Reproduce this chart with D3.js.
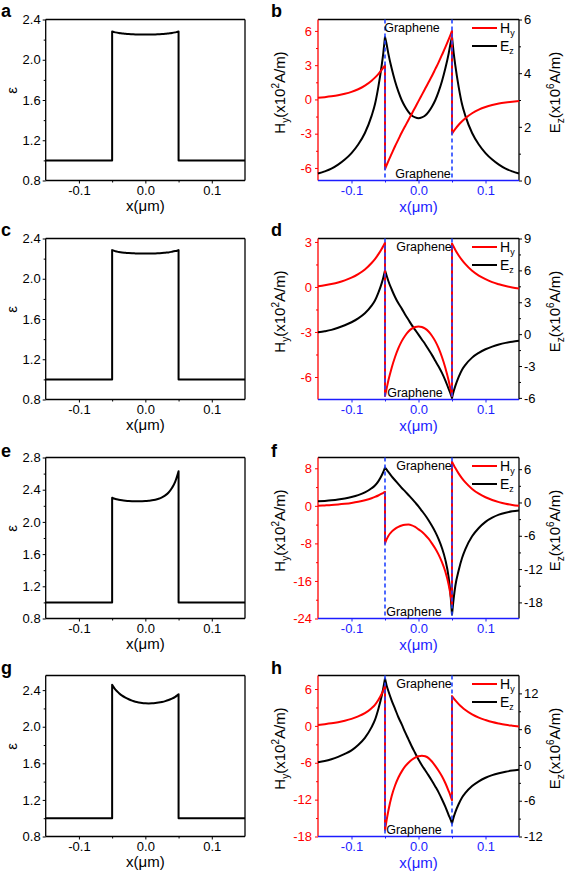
<!DOCTYPE html>
<html><head><meta charset="utf-8">
<script src="https://cdn.jsdelivr.net/npm/d3@7/dist/d3.min.js"></script>
<style>
body{margin:0;background:#fff;}
svg{display:block;font-family:"Liberation Sans",Arial,Helvetica,sans-serif;}
</style>
</head><body>
<svg id="c" width="567" height="873"></svg>
<script>
// ---------------- DATA ----------------
const X_L  = [-0.15,-0.14,-0.13,-0.12,-0.11,-0.10,-0.09,-0.08,-0.07,-0.065,-0.06,-0.055,-0.0525,-0.05];
const X_IN = [-0.05,-0.0475,-0.045,-0.04,-0.035,-0.03,-0.025,-0.02,-0.015,-0.01,-0.005,0,0.005,0.01,0.015,0.02,0.025,0.03,0.035,0.04,0.045,0.0475,0.05];
const X_R  = [0.05,0.0525,0.055,0.06,0.065,0.07,0.08,0.09,0.10,0.11,0.12,0.13,0.14,0.15];
const xField = X_L.concat(X_IN, X_R);
const xEps = [-0.15,-0.05].concat(X_IN, [0.05,0.15]);

// permittivity profiles (panels a, c, e, g)
const epsA = [1.0,1.0, 2.28,2.276,2.272,2.266,2.262,2.258,2.255,2.253,2.251,2.25,2.25,2.25,2.25,2.25,2.251,2.253,2.255,2.258,2.262,2.266,2.272,2.276,2.28, 1.0,1.0];
const epsC = [1.0,1.0, 2.285,2.279,2.273,2.266,2.261,2.258,2.255,2.253,2.252,2.251,2.25,2.25,2.25,2.251,2.252,2.254,2.256,2.259,2.262,2.268,2.275,2.279,2.285, 1.0,1.0];
const epsE = [1.0,1.0, 2.30,2.29,2.285,2.275,2.268,2.263,2.259,2.257,2.256,2.256,2.257,2.259,2.263,2.268,2.276,2.288,2.305,2.33,2.365,2.42,2.50,2.56,2.63, 1.0,1.0];
const epsG = [1.0,1.0, 2.46,2.43,2.405,2.37,2.34,2.318,2.30,2.285,2.273,2.265,2.259,2.256,2.255,2.256,2.259,2.264,2.271,2.28,2.292,2.307,2.327,2.34,2.355, 1.0,1.0];

// H_y (x10^2 A/m) and E_z (x10^6 A/m), panels b, d, f, h
const hyB = [0.14,0.2,0.27,0.36,0.49,0.66,0.89,1.21,1.64,1.91,2.22,2.58,2.78,3.0,
  -6.1,-5.75,-5.4,-4.75,-4.1,-3.5,-2.9,-2.35,-1.8,-1.25,-0.7,-0.15,0.4,0.95,1.5,2.05,2.65,3.25,3.9,4.55,5.25,5.62,6.0,
  -3.0,-2.78,-2.58,-2.22,-1.91,-1.64,-1.21,-0.89,-0.66,-0.49,-0.36,-0.27,-0.2,-0.14];
const ezB = [0.26,0.34,0.44,0.59,0.78,1.02,1.34,1.77,2.41,2.84,3.48,4.28,4.76,5.35,
  5.35,5.07,4.73,4.17,3.70,3.31,2.99,2.75,2.56,2.42,2.35,2.32,2.35,2.42,2.56,2.75,2.99,3.31,3.70,4.17,4.73,5.07,5.35,
  5.35,4.76,4.28,3.48,2.84,2.41,1.77,1.34,1.02,0.78,0.59,0.44,0.34,0.26];
const hyD = [0.05,0.12,0.2,0.3,0.44,0.62,0.86,1.17,1.6,1.86,2.17,2.53,2.73,2.95,
  -7.27,-6.76,-6.24,-5.38,-4.67,-4.08,-3.61,-3.25,-2.97,-2.78,-2.67,-2.63,-2.67,-2.78,-2.97,-3.25,-3.61,-4.08,-4.67,-5.38,-6.24,-6.76,-7.27,
  2.9,2.68,2.47,2.10,1.79,1.52,1.08,0.76,0.52,0.32,0.18,0.06,-0.03,-0.1];
const ezD = [0.17,0.27,0.4,0.6,0.84,1.12,1.48,1.96,2.68,3.16,3.88,4.78,5.34,6.0,
  6.0,5.5,5.0,4.2,3.5,2.9,2.4,1.85,1.35,0.85,0.4,-0.05,-0.5,-0.95,-1.45,-1.95,-2.5,-3.05,-3.65,-4.35,-5.15,-5.55,-6.0,
  -6.0,-5.38,-4.87,-4.02,-3.34,-2.89,-2.21,-1.76,-1.42,-1.17,-0.97,-0.82,-0.71,-0.63];
const hyF = [0.03,0.1,0.18,0.3,0.45,0.63,0.87,1.19,1.62,1.9,2.21,2.58,2.78,3.0,
  -8.0,-7.1,-6.4,-5.5,-4.9,-4.5,-4.2,-4.05,-4.0,-4.15,-4.5,-5.0,-5.5,-6.2,-7.0,-8.0,-9.1,-10.4,-12.0,-14.0,-16.8,-18.7,-21.0,
  9.4,8.7,8.04,6.87,5.86,4.99,3.61,2.59,1.83,1.25,0.8,0.45,0.2,0.0];
const ezF = [0.2,0.28,0.38,0.52,0.72,0.98,1.32,1.8,2.55,3.05,3.8,4.85,5.5,6.3,
  6.3,5.9,5.5,4.7,4.0,3.3,2.6,2.0,1.35,0.7,0.0,-0.7,-1.5,-2.3,-3.2,-4.2,-5.3,-6.6,-8.2,-10.3,-13.5,-16.2,-20.2,
  -20.2,-17.3,-15.0,-12.2,-10.0,-8.4,-6.1,-4.6,-3.5,-2.75,-2.2,-1.85,-1.6,-1.45];
const hyH = [0.16,0.28,0.42,0.6,0.84,1.14,1.55,2.08,2.88,3.42,4.2,5.18,5.78,6.5,
  -17.0,-15.3,-13.8,-11.4,-9.7,-8.4,-7.4,-6.6,-6.0,-5.5,-5.15,-4.95,-4.85,-4.95,-5.25,-5.8,-6.5,-7.3,-8.2,-9.3,-10.6,-11.3,-12.1,
  4.85,4.49,4.15,3.55,3.03,2.58,1.87,1.34,0.95,0.62,0.38,0.18,0.03,-0.1];
const ezH = [0.45,0.65,0.95,1.35,1.85,2.45,3.35,4.55,6.35,7.55,9.35,11.55,12.9,14.5,
  14.5,13.3,12.4,10.8,9.4,8.0,6.8,5.5,4.3,3.1,2.0,0.9,-0.05,-0.9,-1.75,-2.65,-3.6,-4.6,-5.75,-7.0,-8.4,-9.05,-9.8,
  -9.8,-8.75,-7.9,-6.55,-5.45,-4.7,-3.55,-2.75,-2.15,-1.7,-1.38,-1.13,-0.95,-0.82];

// tick labels
const xTicks = [-0.1, 0.0, 0.1];
const xMinor = [-0.05, 0.05];
const epsTicks24 = [0.8,1.2,1.6,2.0,2.4];
const epsTicks28 = [0.8,1.2,1.6,2.0,2.4,2.8];
const epsMinor24 = [1.0,1.4,1.8,2.2];
const epsMinor28 = [1.0,1.4,1.8,2.2,2.6];
const hTicksB = [-6,-3,0,3,6], eTicksB = [0,2,4,6];
const hTicksD = [-6,-3,0,3],   eTicksD = [-6,-3,0,3,6,9];
const hTicksF = [-24,-16,-8,0,8], eTicksF = [-18,-12,-6,0,6];
const hTicksH = [-18,-12,-6,0,6], eTicksH = [-12,-6,0,6,12];
const hMinorB = [-4.5,-1.5,1.5,4.5], eMinorB = [1,3,5];
const hMinorD = [-4.5,-1.5,1.5],     eMinorD = [-4.5,-1.5,1.5,4.5,7.5];
const hMinorF = [-20,-12,-4,4],      eMinorF = [-15,-9,-3,3];
const hMinorH = [-15,-9,-3,3],       eMinorH = [-9,-3,3,9];
const interfaces = [-0.05, 0.05];

// ---------------- LAYOUT / STYLE ----------------
const RED = "#ff0000", BLUE = "#1c1cff", DASH = "#2244ff";
const LX0 = 45.7, LX1 = 245, RX0 = 318, RX1 = 519;
const TOPS = [19.5, 238.5, 457.5, 675.5];
const PH = 161;
const LETTER_Y = [17, 236, 457, 674];
const TICKFS = 13;

const svg = d3.select("#c");

function segments(xs, ys) {
  const segs = []; let cur = [];
  xs.forEach((x, i) => {
    if (i > 0 && x === xs[i-1]) { segs.push(cur); cur = []; }
    cur.push([x, ys[i]]);
  });
  segs.push(cur);
  return segs;
}
function pathFor(xs, ys, sx, sy) {
  const line = d3.line().x(d => sx(d[0])).y(d => sy(d[1])).curve(d3.curveMonotoneX);
  return segments(xs, ys).map((s, i) => {
    const p = s.length > 2 ? line(s) : d3.line().x(d => sx(d[0])).y(d => sy(d[1]))(s);
    return i === 0 ? p : "L" + p.slice(1);
  }).join("");
}
function fmt1(d) { return d3.format(".1f")(d).replace("−","-"); }
function fmtInt(d) { return String(d); }

function styleAxis(g, color) {
  g.select(".domain").remove();
  g.selectAll("line").attr("stroke", color).attr("stroke-width", 1);
  g.selectAll("text").attr("fill", color).attr("font-size", TICKFS).attr("font-family", "Liberation Sans, Arial, sans-serif");
}

function xAxisAt(g, sx, y, color) {
  const a = g.append("g").attr("transform", `translate(0,${y})`)
    .call(d3.axisBottom(sx).tickValues(xTicks).tickFormat(fmt1).tickSize(3).tickPadding(2));
  styleAxis(a, color);
  const m = g.append("g").attr("transform", `translate(0,${y})`)
    .call(d3.axisBottom(sx).tickValues(xMinor).tickFormat("").tickSize(2));
  styleAxis(m, color);
}

function frameLine(g, x1, y1, x2, y2, color) {
  g.append("line").attr("x1", x1).attr("y1", y1).attr("x2", x2).attr("y2", y2)
    .attr("stroke", color).attr("stroke-width", 1.3);
}

function letter(x, y, t) {
  svg.append("text").attr("x", x).attr("y", y).attr("font-size", 18).attr("font-weight", "bold")
    .attr("fill", "#000").text(t);
}

function xLabel(g, cx, y, color) {
  const t = g.append("text").attr("x", cx).attr("y", y).attr("text-anchor", "middle")
    .attr("font-size", 15).attr("fill", color);
  t.append("tspan").text("x(");
  t.append("tspan").text("μ");
  t.append("tspan").text("m)");
}

function drawEps(i, L, eps, yDomain, yTicks, yMinor) {
  const top = TOPS[i], bot = top + PH;
  const sx = d3.scaleLinear().domain([-0.15, 0.15]).range([LX0, LX1]);
  const sy = d3.scaleLinear().domain(yDomain).range([bot, top]);
  const g = svg.append("g");
  const ya = g.append("g").attr("transform", `translate(${LX0},0)`)
    .call(d3.axisLeft(sy).tickValues(yTicks).tickFormat(fmt1).tickSize(3).tickPadding(2));
  styleAxis(ya, "#000");
  const ym = g.append("g").attr("transform", `translate(${LX0},0)`)
    .call(d3.axisLeft(sy).tickValues(yMinor).tickFormat("").tickSize(2));
  styleAxis(ym, "#000");
  xAxisAt(g, sx, bot, "#000");
  frameLine(g, LX0, top, LX1, top, "#000");
  frameLine(g, LX1, top, LX1, bot, "#000");
  frameLine(g, LX0, top, LX0, bot, "#000");
  frameLine(g, LX0, bot, LX1, bot, "#000");
  g.append("path").attr("d", pathFor(xEps, eps, sx, sy)).attr("fill", "none")
    .attr("stroke", "#000").attr("stroke-width", 2).attr("stroke-linejoin", "round");
  g.append("text").attr("transform", `translate(17,${top + 71}) rotate(-90)`)
    .attr("text-anchor", "middle").attr("font-size", 15).text("ε");
  xLabel(g, (LX0 + LX1) / 2, bot + 30, "#000");
  letter(1, LETTER_Y[i], L);
}

function drawField(i, L, hy, ez, hDom, hTicks, hMinor, eDom, eTicks, eMinor, gTopX, gBotX) {
  const top = TOPS[i], bot = top + PH;
  const sx = d3.scaleLinear().domain([-0.15, 0.15]).range([RX0, RX1]);
  const sh = d3.scaleLinear().domain(hDom).range([bot, top]);
  const se = d3.scaleLinear().domain(eDom).range([bot, top]);
  const g = svg.append("g");
  const ha = g.append("g").attr("transform", `translate(${RX0},0)`)
    .call(d3.axisLeft(sh).tickValues(hTicks).tickFormat(fmtInt).tickSize(3).tickPadding(3));
  styleAxis(ha, RED);
  const hm = g.append("g").attr("transform", `translate(${RX0},0)`)
    .call(d3.axisLeft(sh).tickValues(hMinor).tickFormat("").tickSize(2));
  styleAxis(hm, RED);
  const ea = g.append("g").attr("transform", `translate(${RX1},0)`)
    .call(d3.axisRight(se).tickValues(eTicks).tickFormat(fmtInt).tickSize(3).tickPadding(2));
  styleAxis(ea, "#000");
  const em = g.append("g").attr("transform", `translate(${RX1},0)`)
    .call(d3.axisRight(se).tickValues(eMinor).tickFormat("").tickSize(2));
  styleAxis(em, "#000");
  xAxisAt(g, sx, bot, BLUE);
  frameLine(g, RX0, top, RX1, top, "#000");
  frameLine(g, RX1, top, RX1, bot, "#000");
  frameLine(g, RX0, top, RX0, bot, RED);
  frameLine(g, RX0, bot, RX1, bot, BLUE);
  g.append("path").attr("d", pathFor(xField, ez, sx, se)).attr("fill", "none")
    .attr("stroke", "#000").attr("stroke-width", 2).attr("stroke-linejoin", "round");
  g.append("path").attr("d", pathFor(xField, hy, sx, sh)).attr("fill", "none")
    .attr("stroke", RED).attr("stroke-width", 2).attr("stroke-linejoin", "round");
  interfaces.forEach(x0 => {
    g.append("line").attr("x1", sx(x0)).attr("x2", sx(x0)).attr("y1", top).attr("y2", bot)
      .attr("stroke", DASH).attr("stroke-width", 1.6).attr("stroke-dasharray", "4,3");
  });
  g.append("text").attr("x", RX0 + gTopX).attr("y", top + 12).attr("text-anchor", "middle")
    .attr("font-size", 12.5).attr("fill", "#000").text("Graphene");
  g.append("text").attr("x", RX0 + gBotX).attr("y", bot - 3).attr("text-anchor", "middle")
    .attr("font-size", 12.5).attr("fill", "#000").text("Graphene");
  const lx0 = 472, lx1 = 497;
  [[RED, "H", "y", 8.5], ["#000", "E", "z", 26.5]].forEach(([c, a, b, dy]) => {
    g.append("line").attr("x1", lx0).attr("x2", lx1).attr("y1", top + dy).attr("y2", top + dy)
      .attr("stroke", c).attr("stroke-width", 2);
    const t = g.append("text").attr("x", lx1 + 3).attr("y", top + dy + 5).attr("font-size", 14).attr("fill", "#000");
    t.append("tspan").text(a);
    t.append("tspan").attr("font-size", 9).attr("dy", 3).text(b);
  });
  const ht = g.append("text").attr("transform", `translate(285,${top + 73}) rotate(-90)`)
    .attr("text-anchor", "middle").attr("font-size", 15).attr("fill", "#000");
  ht.append("tspan").text("H");
  ht.append("tspan").attr("font-size", 10).attr("dy", 4).text("y");
  ht.append("tspan").attr("dy", -4).text("(x10");
  ht.append("tspan").attr("font-size", 10).attr("dy", -6).text("2");
  ht.append("tspan").attr("dy", 6).text("A/m)");
  const et = g.append("text").attr("transform", `translate(560,${top + 73}) rotate(-90)`)
    .attr("text-anchor", "middle").attr("font-size", 15).attr("fill", "#000");
  et.append("tspan").text("E");
  et.append("tspan").attr("font-size", 10).attr("dy", 4).text("z");
  et.append("tspan").attr("dy", -4).text("(x10");
  et.append("tspan").attr("font-size", 10).attr("dy", -6).text("6");
  et.append("tspan").attr("dy", 6).text("A/m)");
  xLabel(g, (RX0 + RX1) / 2, bot + 31, BLUE);
  letter(271, LETTER_Y[i], L);
}

drawEps(0, "a", epsA, [0.8, 2.4], epsTicks24, epsMinor24);
drawEps(1, "c", epsC, [0.8, 2.4], epsTicks24, epsMinor24);
drawEps(2, "e", epsE, [0.8, 2.8], epsTicks28, epsMinor28);
drawEps(3, "g", epsG, [0.8, 2.56], epsTicks24, epsMinor24);

drawField(0, "b", hyB, ezB, [-7.1, 7.0], hTicksB, hMinorB, [0, 6], eTicksB, eMinorB, 94, 105);
drawField(1, "d", hyD, ezD, [-7.5, 3.23], hTicksD, hMinorD, [-6.15, 9], eTicksD, eMinorD, 106, 97);
drawField(2, "f", hyF, ezF, [-24, 10.3], hTicksF, hMinorF, [-20.9, 8.1], eTicksF, eMinorF, 106, 96);
drawField(3, "h", hyH, ezH, [-18, 8.2], hTicksH, hMinorH, [-12, 15], eTicksH, eMinorH, 106, 96);
</script>
</body></html>
